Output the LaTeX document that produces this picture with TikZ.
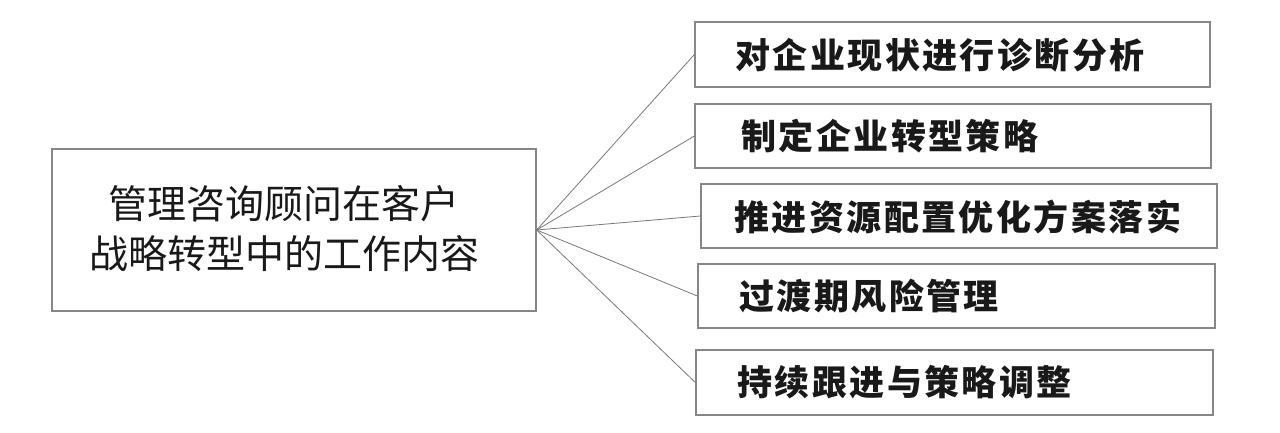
\documentclass[tikz,border=0pt]{standalone}
\usepackage{fontspec}
\newfontfamily\cjk{Noto Sans CJK SC}
\newfontfamily\cjkb{Noto Sans CJK SC}[LetterSpace=7]
\definecolor{boxgray}{RGB}{135,135,135}
\definecolor{linegray}{RGB}{120,120,120}
\definecolor{txt}{RGB}{25,25,25}
\begin{document}
\begin{tikzpicture}[x=1pt,y=-1pt,
  mainbox/.style={draw=boxgray, line width=1.3pt, fill=white, inner sep=0pt},
  rbox/.style={draw=boxgray, line width=1.3pt, fill=white, inner sep=0pt},
  rtext/.style={anchor=west, inner sep=0pt, text=txt, font=\cjkb\bfseries\fontsize{35}{40}\selectfont},
  ltext/.style={inner sep=0pt, text=txt, align=center, font=\cjk\fontsize{39}{50}\selectfont},
  conn/.style={draw=linegray, line width=0.8pt}]
\useasboundingbox (0,0) rectangle (1280,433);
\fill[white] (0,0) rectangle (1280,433);
% left box
\node[mainbox, minimum width=484pt, minimum height=162pt] (L) at (294,230) {};
\node[ltext] (Lt) at (284,229) {管理咨询顾问在客户\\战略转型中的工作内容};
% right boxes
\node[rbox, minimum width=515pt, minimum height=65pt] (b1) at (952.5,54.5) {};
\node[rbox, minimum width=516pt, minimum height=64pt] (b2) at (953,136) {};
\node[rbox, minimum width=516pt, minimum height=64pt] (b3) at (959,216) {};
\node[rbox, minimum width=517pt, minimum height=64pt] (b4) at (956.5,296) {};
\node[rbox, minimum width=517pt, minimum height=65pt] (b5) at (954.5,382.5) {};
\node[rtext] (t1) at (735,55) {对企业现状进行诊断分析};
\node[rtext] (t2) at (741,136) {制定企业转型策略};
\node[rtext] (t3) at (734,217) {推进资源配置优化方案落实};
\node[rtext] (t4) at (739,296) {过渡期风险管理};
\node[rtext] (t5) at (737,382) {持续跟进与策略调整};
% connectors
\foreach \b in {b1,b2,b3,b4,b5} \draw[conn] (L.east) -- (\b.west);
\end{tikzpicture}
\end{document}
